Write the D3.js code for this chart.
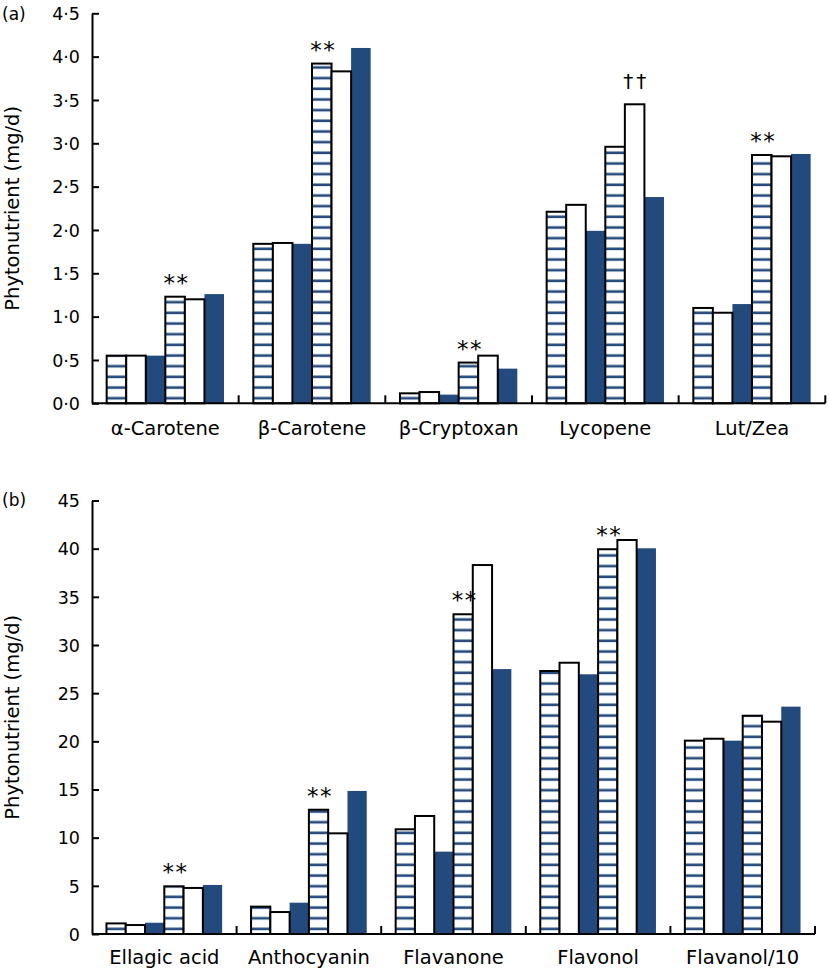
<!DOCTYPE html>
<html><head><meta charset="utf-8">
<script src="https://cdn.jsdelivr.net/npm/d3@7"></script>
<style>
body{margin:0;background:#fff}
svg{display:block}
text{font-family:"DejaVu Sans",sans-serif;fill:#000}
</style></head>
<body><svg id="c" width="829" height="969"></svg>
<script>
// ---------- data ----------
const seriesNames = ["Group 1 (hatched)", "Group 1 (open)", "Group 1 (solid)", "Group 2 (hatched)", "Group 2 (open)", "Group 2 (solid)"];
const seriesStyle = ["hatch", "white", "blue", "hatch", "white", "blue"];

// Panel (a): carotenoids, mg/d
const categoriesA = ["α-Carotene", "β-Carotene", "β-Cryptoxan", "Lycopene", "Lut/Zea"];
const valuesA = [
  [0.55, 1.84, 0.115, 2.21, 1.10],
  [0.55, 1.85, 0.13, 2.29, 1.045],
  [0.55, 1.84, 0.10, 1.99, 1.145],
  [1.23, 3.92, 0.47, 2.96, 2.865],
  [1.20, 3.83, 0.55, 3.45, 2.85],
  [1.26, 4.10, 0.40, 2.38, 2.877]
];
const tickValuesA = [0, 0.5, 1, 1.5, 2, 2.5, 3, 3.5, 4, 4.5];
const tickLabelsA = ["0·0", "0·5", "1·0", "1·5", "2·0", "2·5", "3·0", "3·5", "4·0", "4·5"];
const annotationsA = [
  {cat: "α-Carotene", bar: 3, mark: "**"},
  {cat: "β-Carotene", bar: 3, mark: "**"},
  {cat: "β-Cryptoxan", bar: 3, mark: "**"},
  {cat: "Lycopene", bar: 4, mark: "††"},
  {cat: "Lut/Zea", bar: 3, mark: "**"}
];

// Panel (b): polyphenols, mg/d
const categoriesB = ["Ellagic acid", "Anthocyanin", "Flavanone", "Flavonol", "Flavanol/10"];
const valuesB = [
  [1.10, 2.84, 10.87, 27.3, 20.07],
  [0.93, 2.28, 12.25, 28.16, 20.27],
  [1.17, 3.25, 8.55, 26.96, 20.07],
  [4.95, 12.9, 33.19, 39.94, 22.66],
  [4.78, 10.45, 38.3, 40.9, 22.04],
  [5.09, 14.85, 27.5, 40.04, 23.6]
];
const tickValuesB = [0, 5, 10, 15, 20, 25, 30, 35, 40, 45];
const tickLabelsB = ["0", "5", "10", "15", "20", "25", "30", "35", "40", "45"];
const annotationsB = [
  {cat: "Ellagic acid", bar: 3, mark: "**"},
  {cat: "Anthocyanin", bar: 3, mark: "**"},
  {cat: "Flavanone", bar: 3, mark: "**"},
  {cat: "Flavonol", bar: 3, mark: "**"}
];

const yTitle = "Phytonutrient (mg/d)";

// ---------- drawing ----------
const BLUE = "#224a7c";
const svg = d3.select("#c");
const defs = svg.append("defs");

function panel(cfg) {
  const x = d3.scaleBand().domain(cfg.cats).range([cfg.left, cfg.right]).padding(0);
  const xi = d3.scaleBand().domain(d3.range(seriesStyle.length)).range([0, x.bandwidth()])
    .paddingInner(0).paddingOuter(0.75);
  const y = d3.scaleLinear().domain([0, cfg.yMax]).range([cfg.base, cfg.top]);

  const pid = "hatch" + cfg.id;
  const pat = defs.append("pattern").attr("id", pid).attr("patternUnits", "userSpaceOnUse")
    .attr("x", 0).attr("y", cfg.base).attr("width", 10).attr("height", 10.67);
  pat.append("rect").attr("width", 10).attr("height", 10.67).attr("fill", "#fff");
  pat.append("rect").attr("y", 4.3).attr("width", 10).attr("height", 2.6).attr("fill", BLUE);

  const g = svg.append("g");
  const bars = [];
  cfg.values.forEach((vals, si) => {
    vals.forEach((v, ci) => bars.push({cat: cfg.cats[ci], si, v, style: seriesStyle[si]}));
  });
  // solid bars first, outlined bars on top so borders stay intact
  const order = b => b.style === "blue" ? 0 : 1;
  bars.sort((a, b) => order(a) - order(b));
  g.selectAll("rect.bar").data(bars).join("rect").attr("class", "bar")
    .attr("x", d => x(d.cat) + xi(d.si))
    .attr("y", d => y(d.v))
    .attr("width", xi.bandwidth())
    .attr("height", d => y(0) - y(d.v))
    .attr("fill", d => d.style === "hatch" ? `url(#${pid})` : d.style === "white" ? "#fff" : BLUE)
    .attr("stroke", d => d.style === "blue" ? "none" : "#000")
    .attr("stroke-width", 2);

  // annotations
  g.selectAll("text.ann").data(cfg.ann).join("text").attr("class", "ann")
    .attr("x", d => x(d.cat) + xi(d.bar) + xi.bandwidth() / 2 + 1.5)
    .attr("y", d => {
      const top = y(cfg.values[d.bar][cfg.cats.indexOf(d.cat)]);
      return d.mark === "**" ? top - 6 : top - 16;
    })
    .attr("text-anchor", "middle")
    .attr("font-size", d => d.mark === "**" ? 23 : 20)
    .attr("letter-spacing", d => d.mark === "**" ? 1.5 : 3)
    .text(d => d.mark);

  // x axis line + category separators
  g.append("line").attr("x1", cfg.left).attr("x2", cfg.right)
    .attr("y1", y(0)).attr("y2", y(0)).attr("stroke", "#000").attr("stroke-width", 2);
  g.selectAll("line.sep").data(cfg.cats).join("line").attr("class", "sep")
    .attr("x1", d => x(d) + x.bandwidth()).attr("x2", d => x(d) + x.bandwidth())
    .attr("y1", y(0)).attr("y2", y(0) - 8).attr("stroke", "#000").attr("stroke-width", 2);
  g.selectAll("text.cat").data(cfg.cats).join("text").attr("class", "cat")
    .attr("x", d => x(d) + x.bandwidth() / 2)
    .attr("y", y(0) + cfg.labelDy)
    .attr("text-anchor", "middle").attr("font-size", 19.5)
    .text(d => d);

  // y axis
  const ax = g.append("g").attr("transform", `translate(${cfg.left},0)`)
    .call(d3.axisLeft(y).tickValues(cfg.ticks).tickFormat((d, i) => cfg.tickLabels[i])
      .tickSizeInner(-7).tickSizeOuter(0).tickPadding(12));
  ax.attr("font-family", null).attr("font-size", null);
  ax.select(".domain").attr("stroke-width", 2);
  ax.selectAll(".tick line").attr("stroke-width", 2);
  ax.selectAll(".tick text").attr("font-size", 17.5).attr("dy", "0.36em");

  // y title
  g.append("text")
    .attr("transform", `translate(19,${(cfg.top + cfg.base) / 2}) rotate(-90)`)
    .attr("text-anchor", "middle").attr("font-size", 19.5)
    .text(yTitle);

  // panel tag
  g.append("text").attr("x", 2).attr("y", cfg.tagY).attr("font-size", 17).text(cfg.tag);
}

panel({id: "a", cats: categoriesA, values: valuesA, ticks: tickValuesA, tickLabels: tickLabelsA,
  ann: annotationsA, yMax: 4.5, left: 92, right: 825.3, top: 13.3, base: 403.3,
  labelDy: 31.5, tag: "(a)", tagY: 19.5});
panel({id: "b", cats: categoriesB, values: valuesB, ticks: tickValuesB, tickLabels: tickLabelsB,
  ann: annotationsB, yMax: 45, left: 92, right: 815, top: 500.5, base: 934,
  labelDy: 29.5, tag: "(b)", tagY: 505.5});
</script></body></html>
